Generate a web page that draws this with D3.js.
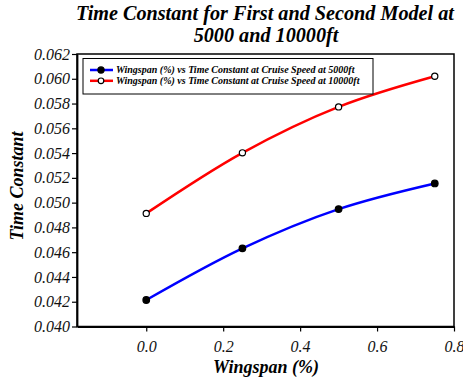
<!DOCTYPE html>
<html>
<head>
<meta charset="utf-8">
<script src="https://cdn.jsdelivr.net/npm/d3@7"></script>
</head>
<body style="margin:0;background:#fff">
<svg id="chart" width="463" height="381" style="display:block"></svg>
<script>
// Wingspan fraction on the x axis, time constant on the y axis
const wingspan = [0.0, 0.25, 0.5, 0.75];
const tc5000 = [0.04214, 0.04631, 0.04948, 0.05155];
const tc10000 = [0.04913, 0.05402, 0.05773, 0.06020];
const xTicks = [0.0, 0.2, 0.4, 0.6, 0.8];
const yTicks = [0.040, 0.042, 0.044, 0.046, 0.048, 0.050, 0.052, 0.054, 0.056, 0.058, 0.060, 0.062];
const seriesNames = [
  "Wingspan (%) vs Time Constant at Cruise Speed at 5000ft",
  "Wingspan (%) vs Time Constant at Cruise Speed at 10000ft"
];

const SERIF = "Liberation Serif";
const svg = d3.select("#chart").style("font-family", SERIF);
const plot = { left: 77, right: 454, top: 54, bottom: 326.5 };

const x = d3.scaleLinear().domain([-0.18, 0.8]).range([plot.left, plot.right]);
const y = d3.scaleLinear().domain([0.040, 0.062]).range([plot.bottom, plot.top]);

function label(sel, size, bold) {
  return sel.style("font-family", SERIF)
    .style("font-style", "italic")
    .style("font-weight", bold ? "bold" : "normal")
    .style("font-size", size + "px")
    .attr("fill", "#000");
}

// Two-line title
label(svg.append("text").attr("text-anchor", "middle"), 20.2, true)
  .attr("x", 265).attr("y", 19.5)
  .text("Time Constant for First and Second Model at");
label(svg.append("text").attr("text-anchor", "middle"), 20.2, true)
  .attr("x", 266).attr("y", 42)
  .text("5000 and 10000ft");

// Frame
svg.append("rect")
  .attr("x", plot.left).attr("y", plot.top)
  .attr("width", plot.right - plot.left).attr("height", plot.bottom - plot.top)
  .attr("fill", "none").attr("stroke", "#000").attr("stroke-width", 1.5);

// Axes
const xAxis = svg.append("g")
  .attr("transform", `translate(0,${plot.bottom})`)
  .call(d3.axisBottom(x).tickValues(xTicks).tickFormat(d3.format(".1f")).tickSize(5).tickSizeOuter(0));
const yAxis = svg.append("g")
  .attr("transform", `translate(${plot.left},0)`)
  .call(d3.axisLeft(y).tickValues(yTicks).tickFormat(d3.format(".3f")).tickSize(5).tickSizeOuter(0));

[xAxis, yAxis].forEach(g => {
  g.attr("font-family", null).attr("font-size", null);
  g.select(".domain").attr("stroke", "#000").attr("stroke-width", 1.8);
  g.selectAll(".tick line").attr("stroke", "#000").attr("stroke-width", 1.2);
  label(g.selectAll(".tick text"), 16, false).attr("fill", "#111");
});
xAxis.selectAll(".tick text").attr("dy", "1.1em");
yAxis.selectAll(".tick text").attr("x", -7);

// Axis titles
label(svg.append("text"), 18, true)
  .attr("x", 266).attr("y", 373).attr("text-anchor", "middle")
  .text("Wingspan (%)");
label(svg.append("text"), 18, true)
  .attr("transform", "translate(23,186) rotate(-90)").attr("text-anchor", "middle")
  .text("Time Constant");

// Curves
const line = d3.line()
  .x(d => x(d[0])).y(d => y(d[1]))
  .curve(d3.curveCatmullRom.alpha(0.5));

const series = [
  { values: tc5000, color: "#0000ff", fill: "#000" },
  { values: tc10000, color: "#ff0000", fill: "#fff" }
];

series.forEach(s => {
  const pts = wingspan.map((w, i) => [w, s.values[i]]);
  svg.append("path").datum(pts)
    .attr("d", line).attr("fill", "none")
    .attr("stroke", s.color).attr("stroke-width", 2.5);
  svg.selectAll(null).data(pts).enter().append("circle")
    .attr("cx", d => x(d[0])).attr("cy", d => y(d[1]))
    .attr("r", s.fill === "#000" ? 3.3 : 3.1)
    .attr("fill", s.fill).attr("stroke", "#000").attr("stroke-width", 1.2);
});

// Legend
const legend = svg.append("g");
legend.append("rect")
  .attr("x", 83).attr("y", 58.5).attr("width", 290).attr("height", 35.5)
  .attr("fill", "#fff").attr("stroke", "#000").attr("stroke-width", 1);
series.forEach((s, i) => {
  const cy = 70 + i * 10.8;
  legend.append("line")
    .attr("x1", 90).attr("x2", 113).attr("y1", cy).attr("y2", cy)
    .attr("stroke", s.color).attr("stroke-width", 2.5);
  legend.append("circle")
    .attr("cx", 101).attr("cy", cy).attr("r", i === 0 ? 3.1 : 2.8)
    .attr("fill", s.fill).attr("stroke", "#000").attr("stroke-width", 1.2);
  label(legend.append("text"), 10, true)
    .attr("x", 116).attr("y", cy + 3.4)
    .text(seriesNames[i]);
});
</script>
</body>
</html>
